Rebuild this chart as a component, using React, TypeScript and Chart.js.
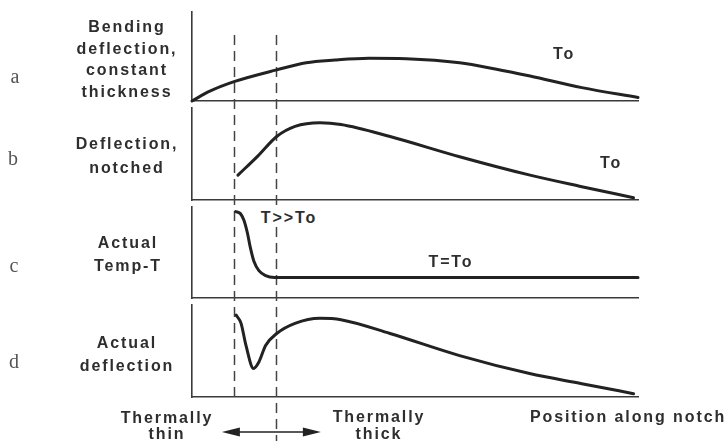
import React, { useEffect, useRef } from "react";
import { Chart, registerables } from "chart.js";

Chart.register(...registerables);

// ---- data (x = position along notch, 0..100; y = relative value in each panel, 0..1)
const X_MIN = 0;
const X_MAX = 100;
const DASH_X = [9.5, 18.8];
const ARROW_X = [6.7, 28.9];

const A_X = [0, 4, 9.6, 19, 25.6, 32, 39.7, 48, 60, 68, 75.8, 87.4, 100];
const A_Y = [0, 0.11, 0.22, 0.35, 0.43, 0.46, 0.48, 0.475, 0.43, 0.36, 0.28, 0.15, 0.04];

const B_X = [10.3, 14.8, 19, 23.1, 28.7, 33.4, 44.4, 60, 75.8, 87.4, 99];
const B_Y = [0.27, 0.48, 0.69, 0.8, 0.84, 0.82, 0.69, 0.47, 0.27, 0.145, 0.025];

const C_X = [9.8, 10.8, 11.6, 12.4, 13.1, 13.9, 15, 16.5, 18.5, 60, 100];
const C_Y = [0.95, 0.93, 0.86, 0.72, 0.55, 0.4, 0.3, 0.245, 0.225, 0.225, 0.225];

const D_X = [9.9, 11, 12.1, 13.8, 15, 16.5, 19, 23.1, 28.7, 33.4, 44.4, 60, 75.7, 87.4, 99];
const D_Y = [0.89, 0.8, 0.56, 0.31, 0.38, 0.56, 0.69, 0.8, 0.855, 0.84, 0.69, 0.45, 0.255, 0.145, 0.036];

const PANEL_LETTERS = ["a", "b", "c", "d"];
const PANEL_TITLES = [
  ["Bending", "deflection,", "constant", "thickness"],
  ["Deflection,", "notched"],
  ["Actual", "Temp-T"],
  ["Actual", "deflection"],
];
const IN_PLOT_LABELS = ["To", "To", "T>>To", "T=To"];
const BOTTOM_LABELS = [["Thermally", "thin"], ["Thermally", "thick"], ["Position along notch"]];

// ---- layout / style
const W = 725;
const H = 441;
const PLOT_LEFT = 192;
const PLOT_RIGHT = 638;
const INK = "#222";
const AXIS = "#3a3a3a";
const TEXT = "#2e2e2e";

type PanelSpec = {
  xs: number[];
  ys: number[];
  top: number;
  height: number;
  padTop: number;
  padBottom: number;
  dashStart: number; // local y where dashes begin
  dashEnds: number[]; // local y where each dashed line ends
  arrowY?: number; // local y of the arrow
};

const PANELS: PanelSpec[] = [
  { xs: A_X, ys: A_Y, top: 0, height: 104, padTop: 12, padBottom: 3, dashStart: 35, dashEnds: [104, 104] },
  { xs: B_X, ys: B_Y, top: 104, height: 100, padTop: 4, padBottom: 4, dashStart: 0, dashEnds: [100, 100] },
  { xs: C_X, ys: C_Y, top: 204, height: 98, padTop: 3, padBottom: 4, dashStart: 0, dashEnds: [98, 98] },
  { xs: D_X, ys: D_Y, top: 302, height: 139, padTop: 3, padBottom: 44, dashStart: 0, dashEnds: [95, 139], arrowY: 130 },
];

const DASH_PATTERN = [10, 6];
const DASH_ORIGIN = 35; // absolute y where the dash pattern starts

function Panel({ spec }: { spec: PanelSpec }) {
  const ref = useRef<HTMLCanvasElement | null>(null);
  useEffect(() => {
    if (!ref.current) return;
    const overlay = {
      id: "overlay",
      beforeDatasetsDraw(chart: any) {
        const ctx = chart.ctx;
        const xs = chart.scales.x;
        ctx.save();
        ctx.strokeStyle = "#444";
        ctx.lineWidth = 1.5;
        ctx.setLineDash(DASH_PATTERN);
        ctx.lineDashOffset = spec.top + spec.dashStart - DASH_ORIGIN;
        DASH_X.forEach((v, i) => {
          const px = Math.round(xs.getPixelForValue(v)) + 0.5;
          ctx.beginPath();
          ctx.moveTo(px, spec.dashStart);
          ctx.lineTo(px, spec.dashEnds[i]);
          ctx.stroke();
        });
        ctx.restore();
        if (spec.arrowY !== undefined) {
          const y = spec.arrowY;
          const x0 = xs.getPixelForValue(ARROW_X[0]);
          const x1 = xs.getPixelForValue(ARROW_X[1]);
          const hl = 18;
          const hw = 4.5;
          ctx.save();
          ctx.strokeStyle = INK;
          ctx.fillStyle = INK;
          ctx.lineWidth = 1.6;
          ctx.beginPath();
          ctx.moveTo(x0 + hl - 2, y);
          ctx.lineTo(x1 - hl + 2, y);
          ctx.stroke();
          ctx.beginPath();
          ctx.moveTo(x0, y);
          ctx.lineTo(x0 + hl, y - hw);
          ctx.lineTo(x0 + hl, y + hw);
          ctx.closePath();
          ctx.fill();
          ctx.beginPath();
          ctx.moveTo(x1, y);
          ctx.lineTo(x1 - hl, y - hw);
          ctx.lineTo(x1 - hl, y + hw);
          ctx.closePath();
          ctx.fill();
          ctx.restore();
        }
      },
    };
    const chart = new Chart(ref.current, {
      type: "line",
      data: {
        datasets: [
          {
            data: spec.xs.map((x, i) => ({ x, y: spec.ys[i] })),
            borderColor: INK,
            borderWidth: 3,
            pointRadius: 0,
            cubicInterpolationMode: "monotone",
            borderCapStyle: "round",
            borderJoinStyle: "round",
            fill: false,
            clip: false as any,
          },
        ],
      },
      options: {
        responsive: false,
        maintainAspectRatio: false,
        animation: false,
        devicePixelRatio: 1,
        events: [],
        layout: {
          padding: {
            left: PLOT_LEFT,
            right: W - PLOT_RIGHT,
            top: spec.padTop,
            bottom: spec.padBottom,
          },
        },
        plugins: { legend: { display: false }, tooltip: { enabled: false }, title: { display: false } },
        scales: {
          x: {
            type: "linear",
            min: X_MIN,
            max: X_MAX,
            grid: { display: false, drawTicks: false },
            ticks: { display: false },
            border: { display: true, color: AXIS, width: 1.6 },
          },
          y: {
            type: "linear",
            min: 0,
            max: 1,
            grid: { display: false, drawTicks: false },
            ticks: { display: false },
            border: { display: true, color: AXIS, width: 1.6 },
          },
        },
      } as any,
      plugins: [overlay],
    });
    return () => chart.destroy();
  }, [spec]);
  return (
    <canvas
      ref={ref}
      width={W}
      height={spec.height}
      style={{ position: "absolute", left: 0, top: spec.top, width: W, height: spec.height }}
    />
  );
}

const SANS = '"Liberation Sans", Arial, Helvetica, sans-serif';
const SERIF = '"Liberation Serif", "Times New Roman", serif';

function Label({
  text,
  cx,
  baseline,
  serif,
  mask,
}: {
  text: string;
  cx: number;
  baseline: number;
  serif?: boolean;
  mask?: boolean;
}) {
  const size = serif ? 20 : 16;
  const asc = serif ? 16.75 : 13.5;
  return (
    <div
      style={{
        position: "absolute",
        left: cx - 150,
        width: 300,
        top: baseline - asc,
        textAlign: "center",
        pointerEvents: "none",
        fontFamily: serif ? SERIF : SANS,
        fontWeight: serif ? 400 : 700,
        fontSize: size,
        lineHeight: size + "px",
        letterSpacing: serif ? 0 : 1.9,
        color: serif ? "#555" : TEXT,
        whiteSpace: "nowrap",
      }}
    >
      <span style={{ background: mask ? "#fff" : "transparent", padding: mask ? "1px 2px" : 0 }}>{text}</span>
    </div>
  );
}

const LETTER_POS = [
  { cx: 15, b: 83 },
  { cx: 13, b: 165 },
  { cx: 14, b: 272 },
  { cx: 14, b: 368 },
];
const TITLE_POS = [
  { cx: 127, b: [32, 54, 75, 97] },
  { cx: 127, b: [149, 173] },
  { cx: 128, b: [248, 271] },
  { cx: 127, b: [348, 371] },
];
const IN_PLOT_POS = [
  { cx: 564, b: 59, mask: false },
  { cx: 611, b: 168, mask: false },
  { cx: 289, b: 223, mask: true },
  { cx: 451, b: 267, mask: false },
];
const BOTTOM_POS = [
  { cx: 167, b: [423, 439] },
  { cx: 379, b: [422, 439] },
  { cx: 628, b: [422] },
];

export default function App() {
  return (
    <div style={{ position: "fixed", left: 0, top: 0, width: W, height: H, background: "#fff", overflow: "hidden" }}>
      {PANELS.map((p, i) => (
        <Panel key={i} spec={p} />
      ))}
      {PANEL_LETTERS.map((t, i) => (
        <Label key={"l" + i} text={t} cx={LETTER_POS[i].cx} baseline={LETTER_POS[i].b} serif />
      ))}
      {PANEL_TITLES.map((lines, i) =>
        lines.map((t, j) => <Label key={"t" + i + j} text={t} cx={TITLE_POS[i].cx} baseline={TITLE_POS[i].b[j]} />)
      )}
      {IN_PLOT_LABELS.map((t, i) => (
        <Label key={"p" + i} text={t} cx={IN_PLOT_POS[i].cx} baseline={IN_PLOT_POS[i].b} mask={IN_PLOT_POS[i].mask} />
      ))}
      {BOTTOM_LABELS.map((lines, i) =>
        lines.map((t, j) => <Label key={"b" + i + j} text={t} cx={BOTTOM_POS[i].cx} baseline={BOTTOM_POS[i].b[j]} />)
      )}
    </div>
  );
}
